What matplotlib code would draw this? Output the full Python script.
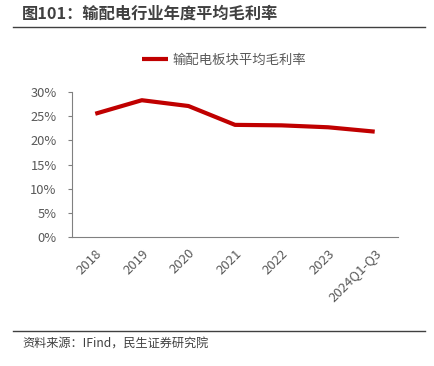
import matplotlib
matplotlib.use('Agg')
import matplotlib.pyplot as plt
from matplotlib.lines import Line2D

plt.rcParams['font.family'] = ['Noto Sans CJK SC', 'DejaVu Sans']

anios = ['2018', '2019', '2020', '2021', '2022', '2023', '2024Q1-Q3']
margen = [25.5, 28.3, 27.1, 23.2, 23.1, 22.7, 21.8]
etiquetas_y = ['0%', '5%', '10%', '15%', '20%', '25%', '30%']
valores_y = [0, 5, 10, 15, 20, 25, 30]

ROJO = '#C00000'
GRIS = '#595959'

fig = plt.figure(figsize=(4.34, 3.66), dpi=100)
ax = fig.add_axes([72 / 434, 1 - 237 / 366, (398 - 72) / 434, (237 - 92) / 366])

x = list(range(len(anios)))
linea, = ax.plot(x, margen, color=ROJO, linewidth=3, solid_capstyle='butt')
ax.set_xlim(-0.5, len(anios) - 0.5)
ax.set_ylim(0, 30)
ax.set_yticks(valores_y)
ax.set_yticklabels(etiquetas_y)
ax.set_xticks(x)
ax.set_xticklabels(anios, rotation=45, ha='right', rotation_mode='anchor')

for lado in ['top', 'right']:
    ax.spines[lado].set_visible(False)
for lado in ['left', 'bottom']:
    ax.spines[lado].set_color('#808080')
    ax.spines[lado].set_linewidth(0.8)
ax.tick_params(axis='y', colors='#808080', labelcolor=GRIS, labelsize=9.3, length=3, width=0.8, pad=8)
ax.tick_params(axis='x', length=0, labelcolor=GRIS, labelsize=9.5, pad=7)

fig.legend([linea], ['输配电板块平均毛利率'], loc='center', bbox_to_anchor=(224 / 434, 1 - 60 / 366),
           frameon=False, fontsize=9.6, handlelength=2.0, handletextpad=0.3, labelcolor=GRIS)

fig.text(22 / 434, 1 - 14 / 366, '图101：输配电行业年度平均毛利率', fontsize=11.7, fontweight='bold',
         color='#404040', va='center', ha='left')
fig.add_artist(Line2D([13 / 434, 425 / 434], [1 - 27 / 366, 1 - 27 / 366], color='#404040', linewidth=1))
fig.add_artist(Line2D([13 / 434, 425 / 434], [1 - 331 / 366, 1 - 331 / 366], color='#404040', linewidth=1))
fig.text(22 / 434, 1 - 344 / 366, '资料来源：IFind，民生证券研究院', fontsize=8.75, color='#404040',
         va='center', ha='left')

plt.savefig('out.png', dpi=100)
